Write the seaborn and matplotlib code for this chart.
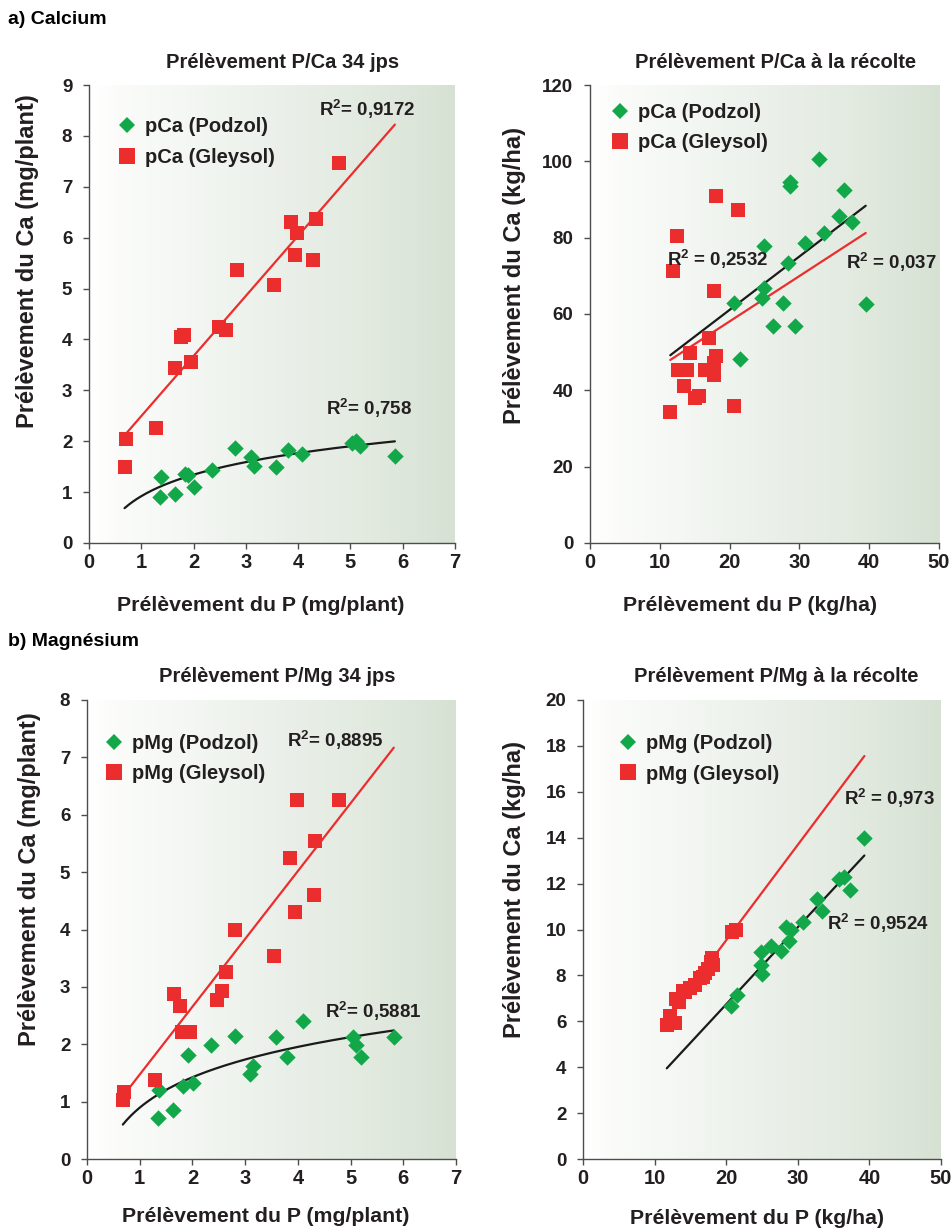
import numpy as np
import pandas as pd
import matplotlib
matplotlib.use("Agg")
import matplotlib.pyplot as plt
import seaborn as sns
from matplotlib.colors import LinearSegmentedColormap
from matplotlib.lines import Line2D

# ---------------- data ----------------
# a) Calcium, 34 jps (mg/plant)
ca34_pod_x = [1.37, 1.35, 1.64, 1.84, 1.89, 2.00, 2.36, 2.79, 3.10, 3.15, 3.58, 3.81, 4.08, 5.03, 5.10, 5.19, 5.85]
ca34_pod_y = [1.29, 0.91, 0.96, 1.36, 1.34, 1.11, 1.43, 1.87, 1.69, 1.51, 1.49, 1.82, 1.75, 1.96, 2.00, 1.90, 1.70]
ca34_gley_x = [0.70, 0.68, 1.29, 1.65, 1.75, 1.81, 1.95, 2.48, 2.62, 2.83, 3.53, 3.86, 3.94, 3.98, 4.34, 4.29, 4.79]
ca34_gley_y = [2.04, 1.49, 2.25, 3.44, 4.04, 4.08, 3.56, 4.25, 4.18, 5.37, 5.07, 6.30, 5.65, 6.09, 6.37, 5.56, 7.46]

# a) Calcium, harvest (kg/ha)
caH_pod_x = [32.8, 28.7, 28.7, 36.4, 35.7, 37.5, 33.5, 30.8, 24.9, 28.4, 24.9, 24.7, 27.7, 20.6, 39.5, 26.2, 29.3, 21.5]
caH_pod_y = [100.5, 94.5, 93.6, 92.4, 85.6, 84.0, 81.1, 78.5, 77.8, 73.3, 66.7, 64.2, 63.0, 62.8, 62.7, 56.8, 56.8, 48.1]
caH_gley_x = [18.0, 21.2, 12.4, 11.9, 17.7, 17.0, 14.3, 18.1, 12.6, 13.9, 16.5, 17.8, 17.8, 13.4, 15.0, 15.6, 20.7, 11.5]
caH_gley_y = [90.8, 87.3, 80.5, 71.2, 66.0, 53.7, 49.9, 48.9, 45.2, 45.2, 45.2, 47.1, 44.1, 41.2, 38.0, 38.4, 35.8, 34.3]

# b) Magnesium, 34 jps (mg/plant)
mg34_pod_x = [1.36, 1.35, 1.64, 1.82, 1.91, 2.02, 2.36, 2.81, 3.10, 3.15, 3.58, 3.80, 4.09, 5.04, 5.10, 5.19, 5.82]
mg34_pod_y = [1.20, 0.71, 0.85, 1.28, 1.82, 1.32, 1.99, 2.15, 1.49, 1.62, 2.13, 1.78, 2.41, 2.13, 1.99, 1.78, 2.12]
mg34_gley_x = [0.70, 0.68, 1.29, 1.65, 1.76, 1.80, 1.95, 2.46, 2.57, 2.64, 2.81, 3.54, 3.85, 3.95, 3.99, 4.33, 4.30, 4.78]
mg34_gley_y = [1.16, 1.03, 1.38, 2.87, 2.66, 2.21, 2.21, 2.77, 2.93, 3.26, 4.00, 3.53, 5.24, 4.31, 6.25, 5.54, 4.60, 6.25]

# b) Magnesium, harvest (kg/ha)
mgH_pod_x = [39.3, 35.7, 36.4, 37.3, 32.7, 33.4, 30.7, 28.4, 29.1, 28.8, 26.2, 27.7, 24.8, 24.8, 25.0, 21.5, 20.7]
mgH_pod_y = [14.0, 12.2, 12.3, 11.72, 11.33, 10.82, 10.33, 10.11, 9.98, 9.51, 9.30, 9.08, 9.03, 8.45, 8.06, 7.15, 6.68]
mgH_gley_x = [11.7, 12.2, 12.8, 13.0, 13.4, 14.0, 14.3, 15.0, 15.6, 16.4, 16.8, 17.1, 17.5, 17.9, 18.0, 18.2, 20.8, 21.3]
mgH_gley_y = [5.84, 6.23, 5.91, 6.95, 6.86, 7.30, 7.29, 7.44, 7.58, 7.87, 7.95, 8.09, 8.30, 8.60, 8.74, 8.45, 9.91, 10.0]

# trend lines: linear (slope, intercept) or log (a, b): y = a + b*ln(x)
ca34_gley_lin = (1.181, 1.313)
ca34_pod_log = (0.92, 0.61)
caH_pod_lin = (1.399, 33.1)
caH_gley_lin = (1.188, 34.3)
mg34_gley_lin = (1.182, 0.29)
mg34_pod_log = (0.895, 0.764)
mgH_gley_lin = (0.416, 1.21)
mgH_pod_lin = (0.336, 0.02)

r2_labels = {
    "ca34": ["R$^2$= 0,9172", "R$^2$= 0,758"],
    "caH": ["R$^2$ = 0,2532", "R$^2$ = 0,037"],
    "mg34": ["R$^2$= 0,8895", "R$^2$= 0,5881"],
    "mgH": ["R$^2$ = 0,973", "R$^2$ = 0,9524"],
}
titles = ["Prélèvement P/Ca 34 jps", "Prélèvement P/Ca à la récolte",
          "Prélèvement P/Mg 34 jps", "Prélèvement P/Mg à la récolte"]
xlabels = ["Prélèvement du P (mg/plant)", "Prélèvement du P (kg/ha)",
           "Prélèvement du P (mg/plant)", "Prélèvement du P (kg/ha)"]
ylabels = ["Prélèvement du Ca (mg/plant)", "Prélèvement du Ca (kg/ha)",
           "Prélèvement du Ca (mg/plant)", "Prélèvement du Ca (kg/ha)"]
legend_labels = [("pCa (Podzol)", "pCa (Gleysol)"), ("pCa (Podzol)", "pCa (Gleysol)"),
                 ("pMg (Podzol)", "pMg (Gleysol)"), ("pMg (Podzol)", "pMg (Gleysol)")]
section_labels = ["a) Calcium", "b) Magnésium"]

# ---------------- style ----------------
sns.set_theme(style="white")
plt.rcParams["font.family"] = ["Liberation Sans", "DejaVu Sans"]
plt.rcParams["font.weight"] = "bold"
plt.rcParams["mathtext.fontset"] = "custom"
plt.rcParams["mathtext.rm"] = "Liberation Sans:bold"
plt.rcParams["mathtext.bf"] = "Liberation Sans:bold"
plt.rcParams["mathtext.it"] = "Liberation Sans:bold"
plt.rcParams["mathtext.default"] = "rm"
TXT = "#231f20"
AX = "#4d4d4d"
GREEN = "#12a84a"
RED = "#ec2d2e"

W, H = 951, 1230
fig = plt.figure(figsize=(W / 100, H / 100), dpi=100)

def px_rect(l, t, r, b):
    return [l / W, 1 - b / H, (r - l) / W, (b - t) / H]

rects = [px_rect(89, 85, 455, 543), px_rect(590, 85, 939, 543),
         px_rect(87, 700, 456, 1159), px_rect(583, 700, 941, 1159)]
xlims = [(0, 7), (0, 50), (0, 7), (0, 50)]
ylims = [(0, 9), (0, 120), (0, 8), (0, 20)]
xticks = [np.arange(0, 8, 1), np.arange(0, 51, 10), np.arange(0, 8, 1), np.arange(0, 51, 10)]
yticks = [np.arange(0, 10, 1), np.arange(0, 121, 20), np.arange(0, 9, 1), np.arange(0, 21, 2)]

grad_cmap = LinearSegmentedColormap.from_list(
    "bg", [(0, "#ffffff"), (0.08, "#fbfcfa"), (0.45, "#edf2ec"), (0.8, "#e1e9df"), (1, "#d6e1d3")])

panels = [
    (ca34_pod_x, ca34_pod_y, ca34_gley_x, ca34_gley_y, ("log", ca34_pod_log), ("lin", ca34_gley_lin), "ca34"),
    (caH_pod_x, caH_pod_y, caH_gley_x, caH_gley_y, ("lin", caH_pod_lin), ("lin", caH_gley_lin), "caH"),
    (mg34_pod_x, mg34_pod_y, mg34_gley_x, mg34_gley_y, ("log", mg34_pod_log), ("lin", mg34_gley_lin), "mg34"),
    (mgH_pod_x, mgH_pod_y, mgH_gley_x, mgH_gley_y, ("lin", mgH_pod_lin), ("lin", mgH_gley_lin), "mgH"),
]

r2_pos = {
    "ca34": [(4.40, 8.52), (4.54, 2.65)],
    "caH": [(11.0, 74.2), (36.7, 73.5)],
    "mg34": [(3.80, 7.30), (4.52, 2.57)],
    "mgH": [(36.4, 15.7), (34.1, 10.27)],
}
legend_anchor = [(0.0757, 0.8755), (0.0564, 0.908), (0.046, 0.8725), (0.0978, 0.8715)]

title_px = [(283, 62), (776, 62), (277, 677), (776, 677)]
xlabel_px = [(261, 605), (750, 605), (266, 1216), (757, 1218)]
ylabel_px = [(28, 261), (515, 275), (30, 879), (515, 890)]

def trend(kind, coef, xs):
    if kind == "log":
        a, b = coef
        return a + b * np.log(xs)
    s, i = coef
    return s * xs + i

for k, (ax_rect, panel) in enumerate(zip(rects, panels)):
    px, py, gx, gy, pod_tr, gley_tr, key = panel
    ax = fig.add_axes(ax_rect)
    ax.imshow(np.linspace(0, 1, 256).reshape(1, -1), cmap=grad_cmap, aspect="auto",
              extent=[0, 1, 0, 1], transform=ax.transAxes, zorder=0, interpolation="bilinear")

    allx = np.array(px + gx)
    xs = np.linspace(allx.min(), allx.max(), 200)
    df_tr = pd.DataFrame({"x": np.concatenate([xs, xs]),
                          "y": np.concatenate([trend(*pod_tr, xs), trend(*gley_tr, xs)]),
                          "s": ["pod"] * len(xs) + ["gley"] * len(xs)})
    sns.lineplot(data=df_tr, x="x", y="y", hue="s", palette={"pod": "#1a1a1a", "gley": RED},
                 estimator=None, sort=False, linewidth=1.6, legend=False, ax=ax, zorder=2)

    sns.scatterplot(x=px, y=py, marker="D", color=GREEN, s=70, linewidth=0, ax=ax, zorder=3)
    sns.scatterplot(x=gx, y=gy, marker="s", color=RED, s=115, linewidth=0, ax=ax, zorder=3)

    ax.set_xlim(*xlims[k])
    ax.set_ylim(*ylims[k])
    ax.set_xticks(xticks[k])
    ax.set_yticks(yticks[k])
    ax.set_xlabel("")
    ax.set_ylabel("")
    ax.patch.set_alpha(0)
    for sp in ["top", "right"]:
        ax.spines[sp].set_visible(False)
    for sp in ["left", "bottom"]:
        ax.spines[sp].set_color(AX)
        ax.spines[sp].set_linewidth(1.0)
    ax.tick_params(axis="both", direction="out", length=4, width=1, color=AX,
                   left=True, bottom=True, colors=TXT)
    ax.tick_params(axis="x", labelsize=14.5, pad=3)
    ax.tick_params(axis="y", labelsize=13.5, pad=8)
    for lab in ax.get_xticklabels() + ax.get_yticklabels():
        lab.set_fontweight("bold")
        lab.set_color(TXT)

    (l1, l2) = r2_labels[key]
    (p1, p2) = r2_pos[key]
    ax.text(p1[0], p1[1], l1, fontsize=13.5, fontweight="bold", color=TXT, ha="left", va="center", zorder=4)
    ax.text(p2[0], p2[1], l2, fontsize=13.5, fontweight="bold", color=TXT, ha="left", va="center", zorder=4)

    handles = [Line2D([], [], marker="D", color=GREEN, linestyle="", markersize=8.5, markeredgewidth=0),
               Line2D([], [], marker="s", color=RED, linestyle="", markersize=11, markeredgewidth=0)]
    leg = ax.legend(handles, legend_labels[k], loc="center left", bbox_to_anchor=legend_anchor[k],
                    frameon=False, borderpad=0, borderaxespad=0, handlelength=1.0,
                    handletextpad=0.4, labelspacing=0.55, prop={"size": 14.5, "weight": "bold"})
    for t in leg.get_texts():
        t.set_color(TXT)

    tx, ty = title_px[k]
    fig.text(tx / W, 1 - ty / H, titles[k], ha="center", va="center", fontsize=14.5,
             fontweight="bold", color=TXT)
    xx, xy = xlabel_px[k]
    fig.text(xx / W, 1 - xy / H, xlabels[k], ha="center", va="center", fontsize=15.3,
             fontweight="bold", color=TXT)
    yx, yy = ylabel_px[k]
    fig.text(yx / W, 1 - yy / H, ylabels[k], ha="center", va="center", rotation=90,
             fontsize=17, fontweight="bold", color=TXT)

for lbl, ypx in zip(section_labels, [20, 641]):
    fig.text(8 / W, 1 - ypx / H, lbl, ha="left", va="center", fontsize=14,
             fontweight="bold", color="#000000")

fig.savefig("out.png", dpi=100, facecolor="white")
